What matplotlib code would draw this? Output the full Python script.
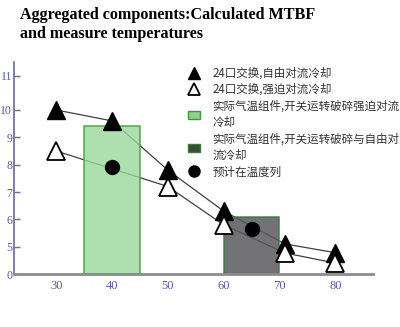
import matplotlib
matplotlib.use('Agg')
import matplotlib.pyplot as plt
from matplotlib.lines import Line2D
from matplotlib.patches import Patch
import numpy as np

# temperatures (x) and MTBF values (y)
temps = [30, 40, 50, 60, 71, 80]
free_conv = [10.0, 9.6, 7.8, 6.3, 5.1, 3.9]
forced_temps = [30, 50, 60, 71, 80]
forced_conv = [8.5, 7.2, 5.8, 3.85, 2.0]
est_temps = [40, 65]
est_vals = [7.9, 5.65]
bar_temps = [40, 65]
bar_vals = [9.4, 6.1]
bar_width = 10

yticks = [0, 5, 6, 7, 8, 9, 10, 11]
xticks = [30, 40, 50, 60, 70, 80]

labels = ['24口交换,自由对流冷却',
          '24口交换,强迫对流冷却',
          '实际气温组件,开关运转破碎强迫对流\n冷却',
          '实际气温组件,开关运转破碎与自由对\n流冷却',
          '预计在温度列']

# broken y axis: 0-5 squeezed into one unit
ybrk = [0, 5, 10, 11, 12]
ypos = [0, 1, 6, 7.25, 8.5]
def fwd(y):
    return np.interp(y, ybrk, ypos)
def inv(y):
    return np.interp(y, ypos, ybrk)

tick_col = '#5a5aa0'
cjk = ['Noto Sans CJK SC', 'DejaVu Sans']

fig = plt.figure(figsize=(4.0, 3.27), dpi=100)
ax = fig.add_axes([0.036, 0.162, 0.897, 0.648])
ax.set_yscale('function', functions=(fwd, inv))

ax.plot(temps, free_conv, color='#404040', lw=0.9, zorder=1)
ax.plot(forced_temps, forced_conv, color='#404040', lw=0.9, zorder=1)

ax.bar(bar_temps[0], bar_vals[0], width=bar_width, color='#9ad89a', alpha=0.8,
       edgecolor='#3c9a3c', lw=1.2, zorder=2)
ax.bar(bar_temps[1], bar_vals[1], width=bar_width, color='#58585e', alpha=0.85,
       edgecolor='#3c7a3c', lw=1.2, zorder=2)

ax.plot(temps, free_conv, ls='none', marker='^', ms=13, color='black', zorder=3)
ax.plot(forced_temps, forced_conv, ls='none', marker='^', ms=13, mfc='white',
        mec='black', mew=1.3, zorder=3)
ax.plot(est_temps, est_vals, ls='none', marker='o', ms=10, color='black', zorder=3)

ax.set_xlim(22.5, 86.8)
ax.set_ylim(0, 11.4)
ax.set_yticks(yticks)
ax.set_xticks(xticks)

for s in ['top', 'right']:
    ax.spines[s].set_visible(False)
ax.spines['left'].set_color('#6a6a98')
ax.spines['left'].set_linewidth(1.2)
ax.spines['bottom'].set_color('#8c8c8c')
ax.spines['bottom'].set_linewidth(2)

ax.tick_params(axis='y', direction='in', length=4, width=1, color='#6a6a98',
               labelcolor=tick_col, labelsize=8.5, pad=1.5)
ax.tick_params(axis='x', length=0, labelcolor=tick_col, labelsize=9, pad=4)
for t in ax.get_xticklabels() + ax.get_yticklabels():
    t.set_family('Liberation Serif')

fig.text(0.05, 0.98, 'Aggregated components:Calculated MTBF\nand measure temperatures',
         family='Liberation Serif', weight='bold', fontsize=11.6, va='top',
         color='black', linespacing=1.3)

handles = [
    Line2D([], [], ls='none', marker='^', ms=9, color='black'),
    Line2D([], [], ls='none', marker='^', ms=9, mfc='white', mec='black', mew=1.3),
    Patch(facecolor='#8fd08a', edgecolor='#3c9a3c'),
    Patch(facecolor='#3a4a3a', edgecolor='#3c7a3c'),
    Line2D([], [], ls='none', marker='o', ms=8, color='black'),
]
leg = fig.legend(handles, labels, loc='upper left', bbox_to_anchor=(0.445, 0.828),
                 frameon=False, handlelength=1.0, handletextpad=1.1,
                 labelspacing=0.3, prop={'family': cjk, 'size': 8.3})
for t in leg.get_texts():
    t.set_color('#333333')
    t.set_linespacing(1.35)

fig.savefig('out.png', dpi=100)
